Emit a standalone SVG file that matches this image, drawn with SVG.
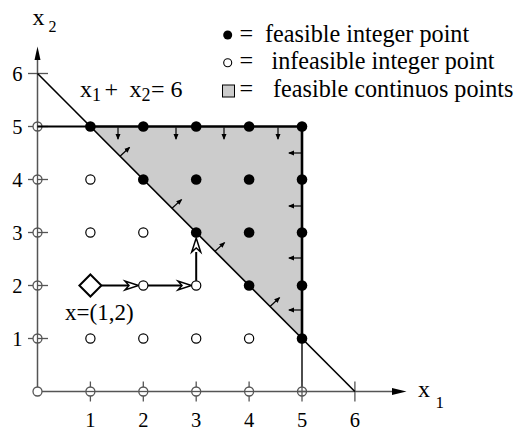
<svg xmlns="http://www.w3.org/2000/svg" width="517" height="430" viewBox="0 0 517 430">
<style>
text{font-family:"Liberation Serif","Times New Roman",serif;fill:#000}
.ax{stroke:#555;stroke-width:1.5;fill:none}
.tk{stroke:#555;stroke-width:1.3;fill:none}
.fp{fill:#000}
.op{fill:#fff;stroke:#000;stroke-width:1.2}
.sa{stroke:#000;stroke-width:1.2;fill:none;marker-end:url(#sm)}
.pa{stroke:#000;stroke-width:2;fill:none}
.hd{fill:#fff;stroke:#000;stroke-width:1.5;stroke-linejoin:miter}
.lbl{font-size:20.5px}
.lg{font-size:24.2px}
</style>
<defs>
<marker id="sm" markerWidth="6" markerHeight="6" refX="5" refY="3" orient="auto" markerUnits="userSpaceOnUse">
<path d="M0,0.5 L6,3 L0,5.5 Z" fill="#000"/>
</marker>
</defs>
<g id="region">
<polygon points="90.4,126.5 302,126.5 302,338.5" fill="#cccccc"/>
</g>
<g id="axes">
<line class="ax" x1="37.5" y1="391.5" x2="37.5" y2="60"/>
<polygon points="37.5,46.5 34.5,60 40.5,60" fill="#000"/>
<line class="ax" x1="37.5" y1="391.5" x2="392" y2="391.5"/>
<polygon points="406.5,391.5 392,388 392,395" fill="#000"/>
<line class="tk" x1="28" y1="73.5" x2="48" y2="73.5"/>
<line class="tk" x1="354.9" y1="381.5" x2="354.9" y2="401.5"/>
<g class="tk">
<line x1="28" y1="126.5" x2="48" y2="126.5"/><circle cx="37.5" cy="126.5" r="4.5" fill="#fff"/>
<line x1="28" y1="179.5" x2="48" y2="179.5"/><circle cx="37.5" cy="179.5" r="4.5" fill="#fff"/>
<line x1="28" y1="232.5" x2="48" y2="232.5"/><circle cx="37.5" cy="232.5" r="4.5" fill="#fff"/>
<line x1="28" y1="285.5" x2="48" y2="285.5"/><circle cx="37.5" cy="285.5" r="4.5" fill="#fff"/>
<line x1="28" y1="338.5" x2="48" y2="338.5"/><circle cx="37.5" cy="338.5" r="4.5" fill="#fff"/>
<circle cx="37.5" cy="391.5" r="4.5" fill="#fff"/>
<line x1="90.4" y1="381.5" x2="90.4" y2="401.5"/><circle cx="90.4" cy="391.5" r="4.5" fill="#fff"/>
<line x1="143.3" y1="381.5" x2="143.3" y2="401.5"/><circle cx="143.3" cy="391.5" r="4.5" fill="#fff"/>
<line x1="196.2" y1="381.5" x2="196.2" y2="401.5"/><circle cx="196.2" cy="391.5" r="4.5" fill="#fff"/>
<line x1="249.1" y1="381.5" x2="249.1" y2="401.5"/><circle cx="249.1" cy="391.5" r="4.5" fill="#fff"/>
</g>
<g class="tk">
<line x1="37.5" y1="126.5" x2="42" y2="126.5"/>
<line x1="37.5" y1="179.5" x2="42" y2="179.5"/>
<line x1="37.5" y1="232.5" x2="42" y2="232.5"/>
<line x1="37.5" y1="285.5" x2="42" y2="285.5"/>
<line x1="37.5" y1="338.5" x2="42" y2="338.5"/>
<line x1="37.5" y1="122" x2="37.5" y2="131"/>
<line x1="37.5" y1="175" x2="37.5" y2="184"/>
<line x1="37.5" y1="228" x2="37.5" y2="237"/>
<line x1="37.5" y1="281" x2="37.5" y2="290"/>
<line x1="37.5" y1="334" x2="37.5" y2="343"/>
<line x1="86" y1="391.5" x2="95" y2="391.5"/>
<line x1="138.8" y1="391.5" x2="147.8" y2="391.5"/>
<line x1="191.7" y1="391.5" x2="200.7" y2="391.5"/>
<line x1="244.6" y1="391.5" x2="253.6" y2="391.5"/>
</g>
<g class="lbl" text-anchor="end">
<text x="22.5" y="80.5">6</text>
<text x="22.5" y="133.5">5</text>
<text x="22.5" y="186.5">4</text>
<text x="22.5" y="239.5">3</text>
<text x="22.5" y="292.5">2</text>
<text x="22.5" y="345.5">1</text>
</g>
<g class="lbl" text-anchor="middle">
<text x="90.4" y="427">1</text>
<text x="143.3" y="427">2</text>
<text x="196.2" y="427">3</text>
<text x="249.1" y="427">4</text>
<text x="302" y="427">5</text>
<text x="354.9" y="427">6</text>
</g>
<text x="32.5" y="25" font-size="24">x<tspan x="48.5" y="31.5" font-size="16">2</tspan></text>
<text x="418" y="396.5" font-size="24">x<tspan x="435.5" y="408" font-size="17">1</tspan></text>
</g>
<g id="constraints">
<line x1="37.5" y1="73.5" x2="354.9" y2="391.5" stroke="#000" stroke-width="1.6"/>
<line x1="37.5" y1="126.5" x2="90.4" y2="126.5" stroke="#000" stroke-width="1.8"/>
<line x1="90.4" y1="126.5" x2="302" y2="126.5" stroke="#000" stroke-width="2.6"/>
<line x1="302" y1="126.5" x2="302" y2="338.5" stroke="#000" stroke-width="2.6"/>
<line x1="302" y1="338.5" x2="302" y2="387" stroke="#000" stroke-width="1.4"/>
<circle cx="302" cy="391.5" r="4.5" class="tk" fill="#fff"/>
<line x1="302" y1="381.5" x2="302" y2="401.5" class="tk"/>
<line x1="297.5" y1="391.5" x2="306.5" y2="391.5" class="tk"/>
<text x="80" y="96.5" font-size="24">x<tspan x="92" y="101" font-size="18">1</tspan><tspan x="104.5" y="96.5">+</tspan><tspan x="129.5" y="96.5">x</tspan><tspan x="141.5" y="101" font-size="18">2</tspan><tspan x="151" y="96.5">= 6</tspan></text>
</g>
<g id="gradients">
<line class="sa" x1="118" y1="127.5" x2="118" y2="139"/>
<line class="sa" x1="176" y1="127.5" x2="176" y2="139"/>
<line class="sa" x1="224" y1="127.5" x2="224" y2="139"/>
<line class="sa" x1="278" y1="127.5" x2="278" y2="139"/>
<line class="sa" x1="301" y1="153" x2="289" y2="153"/>
<line class="sa" x1="301" y1="206" x2="289" y2="206"/>
<line class="sa" x1="301" y1="258" x2="289" y2="258"/>
<line class="sa" x1="301" y1="310" x2="289" y2="310"/>
<line class="sa" x1="120" y1="156.2" x2="129.5" y2="147.5"/>
<line class="sa" x1="172" y1="208.3" x2="181.5" y2="199.6"/>
<line class="sa" x1="215" y1="251.3" x2="224.5" y2="242.6"/>
<line class="sa" x1="270" y1="306.5" x2="279.5" y2="297.8"/>
</g>
<g id="points">
<circle class="fp" cx="90.4" cy="126.5" r="5.3"/>
<circle class="fp" cx="143.3" cy="126.5" r="5.3"/>
<circle class="fp" cx="196.2" cy="126.5" r="5.3"/>
<circle class="fp" cx="249.1" cy="126.5" r="5.3"/>
<circle class="fp" cx="302" cy="126.5" r="5.3"/>
<circle class="fp" cx="143.3" cy="179.5" r="5.3"/>
<circle class="fp" cx="196.2" cy="179.5" r="5.3"/>
<circle class="fp" cx="249.1" cy="179.5" r="5.3"/>
<circle class="fp" cx="302" cy="179.5" r="5.3"/>
<circle class="fp" cx="196.2" cy="232.5" r="5.3"/>
<circle class="fp" cx="249.1" cy="232.5" r="5.3"/>
<circle class="fp" cx="302" cy="232.5" r="5.3"/>
<circle class="fp" cx="249.1" cy="285.5" r="5.3"/>
<circle class="fp" cx="302" cy="285.5" r="5.3"/>
<circle class="fp" cx="302" cy="338.5" r="5.3"/>
<circle class="op" cx="90.4" cy="179.5" r="4.6"/>
<circle class="op" cx="90.4" cy="232.5" r="4.6"/>
<circle class="op" cx="143.3" cy="232.5" r="4.6"/>
<circle class="op" cx="90.4" cy="338.5" r="4.6"/>
<circle class="op" cx="143.3" cy="338.5" r="4.6"/>
<circle class="op" cx="196.2" cy="338.5" r="4.6"/>
<circle class="op" cx="249.1" cy="338.5" r="4.6"/>
</g>
<g id="path">
<line class="pa" x1="101.4" y1="285.5" x2="128" y2="285.5"/>
<line class="pa" x1="148" y1="285.5" x2="181" y2="285.5"/>
<line class="pa" x1="196.2" y1="280.8" x2="196.2" y2="252"/>
<path class="hd" d="M138.5,285.5 L125,281 L129,285.5 L125,290 Z"/>
<path class="hd" d="M191.4,285.5 L178,281 L182,285.5 L178,290 Z"/>
<path class="hd" d="M196.2,238 L191.7,252 L196.2,248 L200.7,252 Z"/>
<circle class="op" cx="143.3" cy="285.5" r="4.6"/>
<circle class="op" cx="196.2" cy="285.5" r="4.6"/>
<polygon points="90.4,274.5 101.4,285.5 90.4,296.5 79.4,285.5" fill="#fff" stroke="#000" stroke-width="2"/>
<text x="65" y="320" font-size="23">x=(1,2)</text>
</g>
<g id="legend">
<circle cx="227.7" cy="35" r="4.5" fill="#000"/>
<circle cx="227.7" cy="62.7" r="4" fill="#fff" stroke="#000" stroke-width="1.1"/>
<rect x="222.5" y="85" width="12" height="12" fill="#cccccc" stroke="#000" stroke-width="1"/>
<text class="lg"><tspan x="239.5" y="41.5">=</tspan><tspan x="265" y="41.5">feasible integer point</tspan></text>
<text class="lg"><tspan x="239.5" y="68.5">=</tspan><tspan x="271.5" y="68.5">infeasible integer point</tspan></text>
<text class="lg"><tspan x="239.5" y="96.5">=</tspan><tspan x="273" y="96.5">feasible continuos points</tspan></text>
</g>
</svg>
